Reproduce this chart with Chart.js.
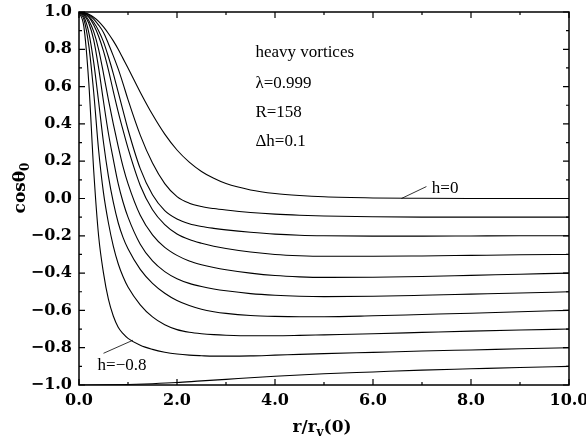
<!DOCTYPE html>
<html>
<head>
<meta charset="utf-8">
<script src="https://cdn.jsdelivr.net/npm/chart.js@4"></script>
<style>
  body { margin: 0; background: #fff; }
  #wrap { position: relative; width: 586px; height: 445px; }
</style>
</head>
<body>
<div id="wrap"><canvas id="Cnvs"></canvas></div>
<script>
// r/rv(0) grid shared by the h curves
var xs = [0, 0.1, 0.2, 0.3, 0.4, 0.5, 0.6, 0.7, 0.8, 0.9, 1.0, 1.25, 1.5, 1.75, 2.0, 2.25, 2.5, 2.75, 3.0, 3.5, 4.0, 4.5, 5, 6, 7, 8, 9, 10];

// cos(theta0) for h = 0, -0.1 ... -0.8
var h0 = [1, 0.997, 0.988, 0.972, 0.95, 0.92, 0.885, 0.845, 0.80, 0.75, 0.70, 0.57, 0.45, 0.345, 0.26, 0.195, 0.145, 0.108, 0.08, 0.046, 0.027, 0.016, 0.009, 0.003, 0.001, 0, 0, 0];
var h1 = [1, 0.996, 0.985, 0.962, 0.93, 0.89, 0.83, 0.765, 0.695, 0.615, 0.53, 0.34, 0.19, 0.08, 0.01, -0.025, -0.043, -0.054, -0.062, -0.075, -0.084, -0.09, -0.094, -0.098, -0.1, -0.1, -0.1, -0.1];
var h2 = [1, 0.995, 0.978, 0.945, 0.9, 0.84, 0.76, 0.67, 0.57, 0.47, 0.37, 0.16, 0.02, -0.065, -0.11, -0.135, -0.15, -0.16, -0.168, -0.181, -0.191, -0.197, -0.2, -0.202, -0.202, -0.201, -0.2, -0.2];
var h3 = [1, 0.993, 0.972, 0.93, 0.87, 0.79, 0.69, 0.575, 0.465, 0.365, 0.27, 0.07, -0.06, -0.14, -0.19, -0.22, -0.24, -0.256, -0.268, -0.287, -0.3, -0.307, -0.31, -0.31, -0.308, -0.305, -0.302, -0.3];
var h4 = [1, 0.99, 0.955, 0.895, 0.8, 0.67, 0.53, 0.4, 0.28, 0.17, 0.08, -0.09, -0.195, -0.262, -0.305, -0.335, -0.355, -0.37, -0.382, -0.4, -0.413, -0.42, -0.423, -0.422, -0.418, -0.412, -0.406, -0.4];
var h5 = [1, 0.985, 0.94, 0.85, 0.7, 0.52, 0.35, 0.21, 0.08, -0.02, -0.1, -0.245, -0.335, -0.392, -0.43, -0.455, -0.472, -0.485, -0.495, -0.51, -0.519, -0.524, -0.526, -0.524, -0.519, -0.513, -0.507, -0.5];
var h6 = [1, 0.975, 0.89, 0.73, 0.52, 0.3, 0.12, -0.02, -0.13, -0.21, -0.27, -0.38, -0.455, -0.508, -0.547, -0.574, -0.594, -0.607, -0.616, -0.627, -0.632, -0.634, -0.634, -0.629, -0.622, -0.615, -0.607, -0.6];
var h7 = [1, 0.96, 0.82, 0.57, 0.26, 0.03, -0.13, -0.255, -0.35, -0.42, -0.475, -0.57, -0.635, -0.677, -0.703, -0.717, -0.725, -0.73, -0.733, -0.736, -0.736, -0.734, -0.731, -0.725, -0.718, -0.711, -0.705, -0.7];
var h8 = [1, 0.92, 0.62, 0.15, -0.2, -0.4, -0.54, -0.63, -0.69, -0.725, -0.75, -0.787, -0.809, -0.824, -0.834, -0.84, -0.843, -0.845, -0.845, -0.844, -0.84, -0.836, -0.832, -0.825, -0.818, -0.812, -0.806, -0.8];

// bottom curve, starts at -1
var bx = [0, 0.5, 1, 1.5, 2, 2.5, 3, 3.5, 4, 5, 6, 7, 8, 9, 10];
var by = [-1, -0.999, -0.997, -0.993, -0.987, -0.978, -0.97, -0.961, -0.953, -0.94, -0.93, -0.92, -0.913, -0.906, -0.9];

var xTicks = [0, 2, 4, 6, 8, 10];
var yTicks = [-1, -0.8, -0.6, -0.4, -0.2, 0, 0.2, 0.4, 0.6, 0.8, 1];

function pts(x, y) {
  return x.map(function(v, i) { return {x: v, y: y[i]}; });
}
function line(d) {
  return { data: d, borderColor: '#000', borderWidth: 1.1, pointRadius: 0, fill: false,
           cubicInterpolationMode: 'monotone' };
}

var curves = [h0, h1, h2, h3, h4, h5, h6, h7, h8];
var datasets = curves.map(function(c) { return line(pts(xs, c)); });
datasets.push(line(pts(bx, by)));

function fmt(v) {
  var s = Math.abs(v).toFixed(1);
  return (v < -1e-9 ? '\u2212' : '') + s;
}

var serif = "'Liberation Serif', 'Times New Roman', serif";
var tickFont = "'DejaVu Serif', serif";

var frame = {
  id: 'frame',
  afterDraw: function(chart) {
    var ctx = chart.ctx, a = chart.chartArea;
    var sx = chart.scales.x, sy = chart.scales.y;
    ctx.save();
    ctx.strokeStyle = '#000';
    ctx.lineWidth = 1.5;
    ctx.strokeRect(a.left, a.top, a.right - a.left, a.bottom - a.top);

    // inward ticks on all four sides
    ctx.lineWidth = 1.2;
    ctx.beginPath();
    for (var i = 0; i <= 10; i++) {
      var px = sx.getPixelForValue(i);
      var len = (i % 2 === 0) ? 6 : 3;
      ctx.moveTo(px, a.bottom); ctx.lineTo(px, a.bottom - len);
      ctx.moveTo(px, a.top); ctx.lineTo(px, a.top + len);
    }
    for (var j = -10; j <= 10; j++) {
      var py = sy.getPixelForValue(j / 10);
      var l2 = (j % 2 === 0) ? 6 : 3;
      ctx.moveTo(a.left, py); ctx.lineTo(a.left + l2, py);
      ctx.moveTo(a.right, py); ctx.lineTo(a.right - l2, py);
    }
    ctx.stroke();

    // annotations
    ctx.fillStyle = '#000';
    ctx.font = '17px ' + serif;
    ctx.textAlign = 'left';
    ctx.textBaseline = 'alphabetic';
    var tx = sx.getPixelForValue(3.6);
    ctx.fillText('heavy vortices', tx, sy.getPixelForValue(0.76));
    ctx.fillText('\u03bb=0.999', tx, sy.getPixelForValue(0.59));
    ctx.fillText('R=158', tx, sy.getPixelForValue(0.435));
    ctx.fillText('\u0394h=0.1', tx, sy.getPixelForValue(0.28));

    ctx.fillText('h=0', sx.getPixelForValue(7.2), sy.getPixelForValue(0.03));
    ctx.fillText('h=\u22120.8', sx.getPixelForValue(0.38), sy.getPixelForValue(-0.92));

    ctx.lineWidth = 0.8;
    ctx.beginPath();
    ctx.moveTo(sx.getPixelForValue(6.58), sy.getPixelForValue(0.0));
    ctx.lineTo(sx.getPixelForValue(7.09), sy.getPixelForValue(0.064));
    ctx.moveTo(sx.getPixelForValue(0.5), sy.getPixelForValue(-0.83));
    ctx.lineTo(sx.getPixelForValue(1.1), sy.getPixelForValue(-0.76));
    ctx.stroke();

    // x title r/r_v(0)
    var big = 'bold 17px ' + tickFont, small = 'bold 12px ' + tickFont;
    ctx.font = big;
    var w1 = ctx.measureText('r/r').width, w3 = ctx.measureText('(0)').width;
    ctx.font = small;
    var w2 = ctx.measureText('v').width;
    var x0 = 322 - (w1 + w2 + w3) / 2, base = 432;
    ctx.font = big; ctx.fillText('r/r', x0, base);
    ctx.font = small; ctx.fillText('v', x0 + w1, base + 4);
    ctx.font = big; ctx.fillText('(0)', x0 + w1 + w2, base);

    // y title cos(theta)_0
    ctx.translate(25, 188);
    ctx.rotate(-Math.PI / 2);
    ctx.font = big;
    var c1 = ctx.measureText('cos\u03b8').width;
    ctx.font = small;
    var c2 = ctx.measureText('0').width;
    var s0 = -(c1 + c2) / 2;
    ctx.font = big; ctx.fillText('cos\u03b8', s0, 0);
    ctx.font = small; ctx.fillText('0', s0 + c1, 4);
    ctx.restore();
  }
};

new Chart(document.getElementById('Cnvs'), {
  type: 'line',
  data: { datasets: datasets },
  options: {
    responsive: true,
    maintainAspectRatio: false,
    animation: false,
    events: [],
    layout: { padding: { top: 12, right: 17, left: 0, bottom: 0 } },
    plugins: { legend: { display: false }, tooltip: { enabled: false } },
    scales: {
      x: {
        type: 'linear', min: 0, max: 10,
        grid: { display: false, drawTicks: false }, border: { display: false },
        afterBuildTicks: function(s) { s.ticks = xTicks.map(function(v) { return {value: v}; }); },
        ticks: { callback: fmt, padding: 6, maxRotation: 0, color: '#000',
                 font: { family: tickFont, weight: 'bold', size: 16 } },
        afterFit: function(s) { s.height = 60; s.paddingLeft = 0; s.paddingRight = 0; }
      },
      y: {
        type: 'linear', min: -1, max: 1,
        grid: { display: false, drawTicks: false }, border: { display: false },
        afterBuildTicks: function(s) { s.ticks = yTicks.map(function(v) { return {value: v}; }); },
        ticks: { callback: fmt, padding: 7, color: '#000',
                 font: { family: tickFont, weight: 'bold', size: 16 } },
        afterFit: function(s) { s.width = 79; s.paddingTop = 0; s.paddingBottom = 0; }
      }
    }
  },
  plugins: [frame]
});
</script>
</body>
</html>
